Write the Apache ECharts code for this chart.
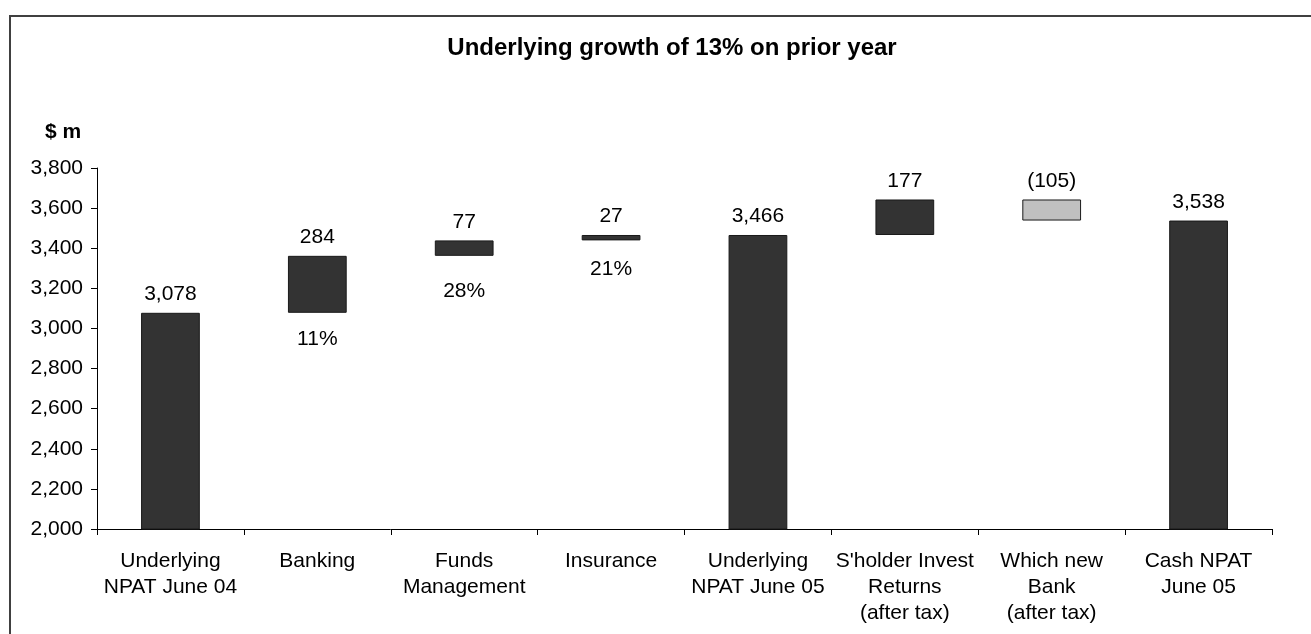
<!DOCTYPE html>
<html>
<head>
<meta charset="utf-8">
<script src="https://cdn.jsdelivr.net/npm/echarts@6/dist/echarts.min.js"></script>
<style>
  html, body { margin: 0; padding: 0; background: #fff; }
  #chart { width: 1311px; height: 634px; }
</style>
</head>
<body>
<div id="chart"></div>
<script>
var categories = [
  'Underlying\nNPAT June 04',
  'Banking',
  'Funds\nManagement',
  'Insurance',
  'Underlying\nNPAT June 05',
  "S'holder Invest\nReturns\n(after tax)",
  'Which new\nBank\n(after tax)',
  'Cash NPAT\nJune 05'
];
var values = [3078, 284, 77, 27, 3466, 177, -105, 3538];
var isTotal = [true, false, false, false, true, false, false, true];
var growthLabels = ['', '11%', '28%', '21%', '', '', '', ''];

var font = "'Liberation Sans', Arial, sans-serif";
// gap under each step bar for its growth label (layout only)
var growthGap = [0, 16, 25, 19, 0, 0, 0, 0];

// waterfall: invisible base + visible step
var base = [], step = [], running = 0;
values.forEach(function (v, i) {
  if (isTotal[i]) {
    base.push(0); step.push(v); running = v;
  } else if (v >= 0) {
    base.push(running); step.push(v); running += v;
  } else {
    running += v; base.push(running); step.push(-v);
  }
});

function fmt(v) {
  var s = Math.abs(v).toString().replace(/\B(?=(\d{3})+(?!\d))/g, ',');
  return v < 0 ? '(' + s + ')' : s;
}

var myChart = echarts.init(document.getElementById('chart'));
myChart.setOption({
  animation: false,
  graphic: [
    {
      type: 'rect',
      shape: { x: 10, y: 16, width: 1400, height: 700 },
      style: { fill: 'none', stroke: '#404040', lineWidth: 2 },
      silent: true
    },
    {
      type: 'text',
      x: 672,
      y: 48,
      style: {
        text: 'Underlying growth of 13% on prior year',
        font: 'bold 24px ' + font, fill: '#000',
        textAlign: 'center', textVerticalAlign: 'middle'
      }
    },
    {
      type: 'text',
      x: 63,
      y: 132,
      style: {
        text: '$ m', font: 'bold 21px ' + font, fill: '#000',
        textAlign: 'center', textVerticalAlign: 'middle'
      }
    }
  ],
  grid: { left: 97, right: 39, top: 168, bottom: 105, containLabel: false },
  xAxis: {
    type: 'category',
    data: categories,
    axisLine: { lineStyle: { color: '#000', width: 1 } },
    axisTick: { show: true, length: 6, lineStyle: { color: '#000' } },
    axisLabel: {
      color: '#000', fontFamily: font, fontSize: 21, lineHeight: 26,
      margin: 19, interval: 0
    }
  },
  yAxis: {
    type: 'value',
    min: 2000,
    max: 3800,
    interval: 200,
    axisLine: { show: true, lineStyle: { color: '#000', width: 1 } },
    axisTick: { show: true, length: 6, lineStyle: { color: '#000' } },
    splitLine: { show: false },
    axisLabel: {
      color: '#000', fontFamily: font, fontSize: 21, margin: 14,
      formatter: function (v) { return fmt(v); }
    }
  },
  series: [
    {
      type: 'bar',
      stack: 'wf',
      barWidth: '40%',
      itemStyle: { color: 'transparent', borderColor: 'transparent' },
      data: base.map(function (b, i) {
        return {
          value: b,
          label: {
            show: growthLabels[i] !== '',
            position: 'insideTop',
            distance: growthGap[i],
            color: '#000',
            fontFamily: font,
            fontSize: 21,
            formatter: growthLabels[i]
          }
        };
      }),
      silent: true
    },
    {
      type: 'bar',
      stack: 'wf',
      barWidth: '40%',
      data: step.map(function (s, i) {
        return {
          value: s,
          itemStyle: {
            color: values[i] < 0 ? '#c0c0c0' : '#333333',
            borderColor: '#1a1a1a',
            borderWidth: 1
          }
        };
      }),
      label: {
        show: true,
        position: 'top',
        distance: 8,
        color: '#000',
        fontFamily: font,
        fontSize: 21,
        formatter: function (p) { return fmt(values[p.dataIndex]); }
      }
    }
  ]
});
</script>
</body>
</html>
